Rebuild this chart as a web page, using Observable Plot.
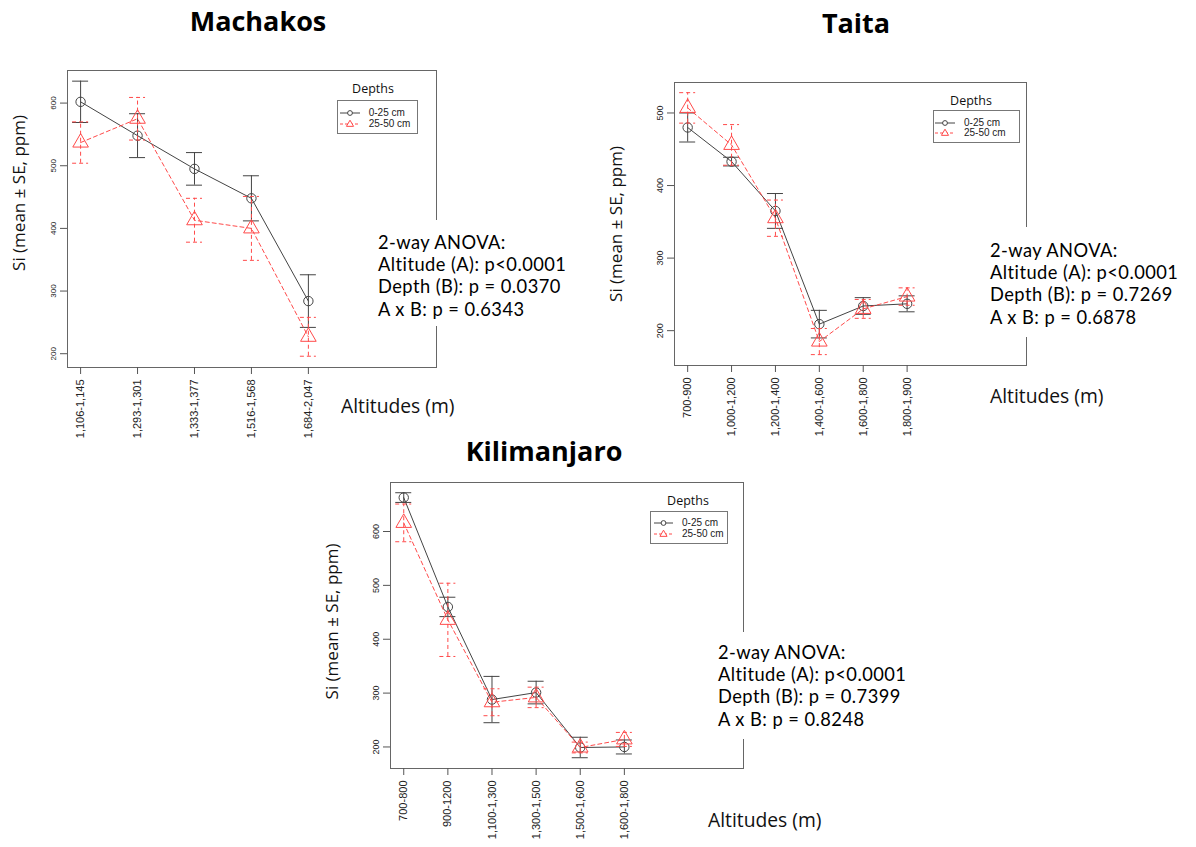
<!DOCTYPE html>
<html><head><meta charset="utf-8">
<script src="https://cdn.jsdelivr.net/npm/d3@7"></script>
<script src="https://cdn.jsdelivr.net/npm/@observablehq/plot@0.6"></script>
<style>
body{margin:0;background:#fff;}
#root{position:relative;width:1196px;height:847px;overflow:hidden;background:#fff;font-family:"Open Sans",Lato,sans-serif;color:#111;}
.abs{position:absolute;white-space:nowrap;}
.title{font-weight:bold;font-size:27px;transform:translate(-50%,-50%);line-height:1;color:#000;}
.anova{font-family:Lato,sans-serif;font-size:18.3px;line-height:22.2px;letter-spacing:0.45px;background:#fff;z-index:5;color:#000;}
.xlab{font-size:19.3px;transform:translateY(-50%);line-height:1;font-weight:500;}
.legbox{border:1px solid #777;background:#fff;box-sizing:border-box;z-index:4;}
.legtitle{font-size:12.5px;transform:translate(-50%,-50%);line-height:1;z-index:4;font-weight:500;}
.legrow{position:absolute;font-family:"Liberation Sans",Arial,sans-serif;font-size:10px;line-height:1;transform:translateY(-50%);color:#222;}
svg.plot{position:absolute;}
</style>
</head><body><div id="root"></div>
<script>
// ---------------- data ----------------
const depths = ["0-25 cm", "25-50 cm"];
const yLabel = "Si (mean \u00b1 SE, ppm)";
const xLabel = "Altitudes (m)";

const machakosAltitudes = ["1,106-1,145", "1,293-1,301", "1,333-1,377", "1,516-1,568", "1,684-2,047"];
const machakosTopMean = [602, 548, 495, 448, 284];
const machakosTopSE   = [33, 35, 26, 36, 42];
const machakosSubMean = [537, 575, 413, 400, 227];
const machakosSubSE   = [33, 34, 35, 51, 31];
const machakosTicks   = [200, 300, 400, 500, 600];
const machakosAnova   = ["2-way ANOVA:", "Altitude (A): p<0.0001", "Depth (B): p = 0.0370", "A x B: p = 0.6343"];

const taitaAltitudes = ["700-900", "1,000-1,200", "1,200-1,400", "1,400-1,600", "1,600-1,800", "1,800-1,900"];
const taitaTopMean = [480, 433, 365, 209, 234, 237];
const taitaTopSE   = [20, 6, 24, 19, 11.5, 11];
const taitaSubMean = [507, 456, 355, 185, 230, 247];
const taitaSubSE   = [21, 28, 25, 18, 13, 12];
const taitaTicks   = [200, 300, 400, 500];
const taitaAnova   = ["2-way ANOVA:", "Altitude (A): p<0.0001", "Depth (B): p = 0.7269", "A x B: p = 0.6878"];

const kiliAltitudes = ["700-800", "900-1200", "1,100-1,300", "1,300-1,500", "1,500-1,600", "1,600-1,800"];
const kiliTopMean = [663, 460, 288, 301, 199, 200];
const kiliTopSE   = [9, 18, 43, 21, 19, 13];
const kiliSubMean = [616, 436, 283, 292, 199, 214];
const kiliSubSE   = [35, 68, 25, 19, 10, 13];
const kiliTicks   = [200, 300, 400, 500, 600];
const kiliAnova   = ["2-way ANOVA:", "Altitude (A): p<0.0001", "Depth (B): p = 0.7399", "A x B: p = 0.8248"];

// ---------------- drawing ----------------
const BLACK = "#444";
const RED = "#ff4a4a";
const root = document.getElementById("root");

function rows(labels, mean, se) {
  return labels.map((l, k) => ({i: k + 1, label: l, mean: mean[k], se: se[k]}));
}

function panel(cfg) {
  const top = rows(cfg.labels, cfg.topMean, cfg.topSE);
  const sub = rows(cfg.labels, cfg.subMean, cfg.subSE);
  const n = cfg.labels.length;
  const pxPerUnit = (cfg.width - cfg.mLeft - cfg.mRight) / (cfg.xDomain[1] - cfg.xDomain[0]);
  const cap = 8 / pxPerUnit;
  const series = (data, color, dash, symbol, r) => [
    Plot.line(data, {x: "i", y: "mean", stroke: color, strokeWidth: 1, strokeDasharray: dash}),
    Plot.ruleX(data, {x: "i", y1: d => d.mean - d.se, y2: d => d.mean + d.se, stroke: color, strokeWidth: 1, strokeDasharray: dash}),
    Plot.ruleY(data, {y: d => d.mean + d.se, x1: d => d.i - cap, x2: d => d.i + cap, stroke: color, strokeWidth: 1, strokeDasharray: dash}),
    Plot.ruleY(data, {y: d => d.mean - d.se, x1: d => d.i - cap, x2: d => d.i + cap, stroke: color, strokeWidth: 1, strokeDasharray: dash}),
    Plot.dot(data, {x: "i", y: "mean", symbol, r, stroke: color, fill: "none", strokeWidth: 1})
  ];
  const chart = Plot.plot({
    width: cfg.width, height: cfg.height,
    marginLeft: cfg.mLeft, marginRight: cfg.mRight, marginTop: cfg.mTop, marginBottom: cfg.mBottom,
    style: {fontFamily: "'Liberation Sans', Arial, sans-serif", background: "transparent", overflow: "visible", color: "#222"},
    x: {type: "linear", domain: cfg.xDomain},
    y: {type: "linear", domain: cfg.yDomain},
    marks: [
      Plot.frame({stroke: "#666"}),
      Plot.axisY({ticks: cfg.yTicks, tickSize: 7, tickRotate: -90, tickPadding: 5, fontSize: cfg.yFont, label: null, stroke: "#555"}),
      Plot.axisX({ticks: d3.range(1, n + 1), tickSize: 7, tickRotate: -90, tickPadding: 5, fontSize: 11, label: null, tickFormat: d => cfg.labels[d - 1], stroke: "#555"}),
      ...series(top, BLACK, null, "circle", 4.7),
      ...series(sub, RED, "4,3", "triangle", 5.8),
      Plot.text([yLabel], {frameAnchor: "left", text: d => d, rotate: -90, textAnchor: "middle", dx: cfg.yLabDx, dy: cfg.yLabDy, fontSize: 17, fontWeight: 500, fontFamily: "'Open Sans', sans-serif", fill: "#111"})
    ]
  });
  chart.classList.add("plot");
  chart.style.left = cfg.left + "px";
  chart.style.top = cfg.top + "px";
  root.appendChild(chart);
}

function addText(cls, text, x, y, extra) {
  const d = document.createElement("div");
  d.className = "abs " + cls;
  d.style.left = x + "px";
  d.style.top = y + "px";
  if (extra) Object.assign(d.style, extra);
  d.innerHTML = text;
  root.appendChild(d);
  return d;
}

function legend(bx, by, bw, bh, tx, ty, r1, r2, s0, s1, textX) {
  addText("legtitle", "Depths", tx, ty);
  const box = addText("legbox", "", bx, by, {width: bw + "px", height: bh + "px"});
  const defs = [[r1, BLACK, null, "circle"], [r2, RED, "3,2", "triangle"]];
  defs.forEach(([ry, col, dash, sym], k) => {
    const w = s1 - s0;
    const svg = d3.create("svg").attr("width", w).attr("height", 8)
      .style("position", "absolute").style("left", s0 + "px").style("top", (ry - 4) + "px");
    svg.append("line").attr("x1", 0).attr("x2", w).attr("y1", 4).attr("y2", 4)
      .attr("stroke", col).attr("stroke-dasharray", dash);
    if (sym === "circle") svg.append("circle").attr("cx", w / 2).attr("cy", 4).attr("r", 2.4).attr("fill", "#fff").attr("stroke", col);
    else svg.append("path").attr("d", d3.symbol(d3.symbolTriangle, 22)()).attr("transform", `translate(${w / 2},4.3)`).attr("fill", "#fff").attr("stroke", col);
    box.appendChild(svg.node());
    const t = document.createElement("div");
    t.className = "legrow";
    t.style.left = textX + "px";
    t.style.top = ry + "px";
    t.textContent = depths[k];
    box.appendChild(t);
  });
}

function anova(lines, x, y, padTop, padBottom) {
  addText("anova", lines.join("<br>"), x, y, {padding: `${padTop}px 8px ${padBottom}px 0`});
}

// Machakos
panel({labels: machakosAltitudes, topMean: machakosTopMean, topSE: machakosTopSE, subMean: machakosSubMean, subSE: machakosSubSE,
  xDomain: [0.77, 7.25], yDomain: [178, 652], yTicks: machakosTicks, yFont: 8,
  left: 0, top: 0, width: 450, height: 460, mLeft: 67, mRight: 14, mTop: 70, mBottom: 93, yLabDx: -48, yLabDy: -26});
// Taita
panel({labels: taitaAltitudes, topMean: taitaTopMean, topSE: taitaTopSE, subMean: taitaSubMean, subSE: taitaSubSE,
  xDomain: [0.70, 8.72], yDomain: [152, 542], yTicks: taitaTicks, yFont: 9,
  left: 590, top: 0, width: 450, height: 460, mLeft: 84, mRight: 14, mTop: 82, mBottom: 95, yLabDx: -58, yLabDy: 0});
// Kilimanjaro
panel({labels: kiliAltitudes, topMean: kiliTopMean, topSE: kiliTopSE, subMean: kiliSubMean, subSE: kiliSubSE,
  xDomain: [0.70, 8.70], yDomain: [160, 691], yTicks: kiliTicks, yFont: 9,
  left: 300, top: 470, width: 460, height: 377, mLeft: 90, mRight: 17, mTop: 12, mBottom: 79, yLabDx: -58, yLabDy: -4});

// titles
addText("title", "Machakos", 258, 20);
addText("title", "Taita", 856, 22);
addText("title", "Kilimanjaro", 544, 450);

// ANOVA boxes
anova(machakosAnova, 378, 220, 11, 6);
anova(taitaAnova, 990, 227, 12, 9);
anova(kiliAnova, 718, 632, 9, 9);

// x-axis titles
addText("xlab", xLabel, 341, 406);
addText("xlab", xLabel, 990, 396);
addText("xlab", xLabel, 708, 820);

// legends
legend(336.7, 100, 81, 34, 373, 89, 12, 23, 2, 22, 31);
legend(933, 110, 87, 33, 971, 101, 12, 22, 1, 21, 30);
legend(650, 510.7, 78, 33, 688, 501, 11, 22.5, 3, 22, 31);
</script></body></html>
